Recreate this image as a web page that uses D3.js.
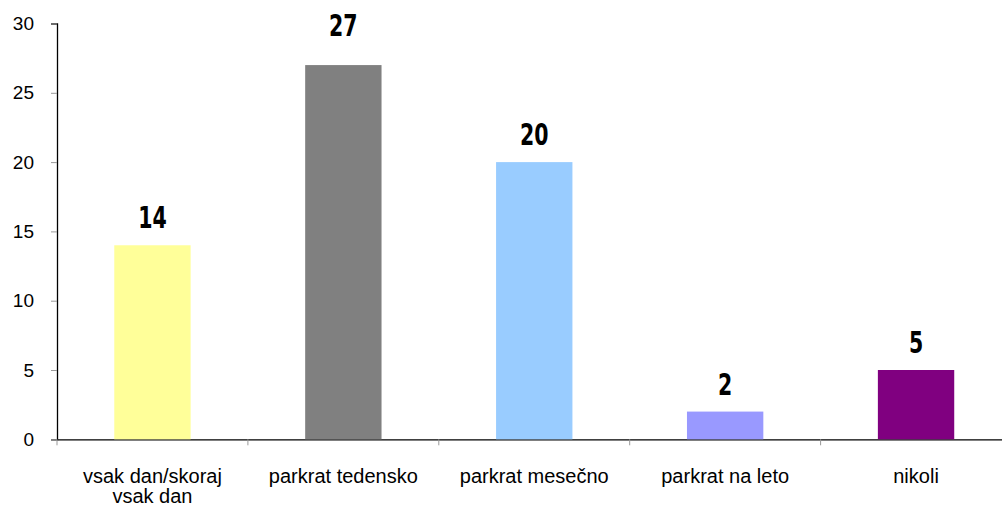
<!DOCTYPE html>
<html>
<head>
<meta charset="utf-8">
<script src="https://cdn.jsdelivr.net/npm/d3@7"></script>
<style>
  body { margin: 0; background: #fff; }
  svg { display: block; }
</style>
</head>
<body>
<div class="chartHolder"></div>
<script>
const categories = [['vsak dan/skoraj', 'vsak dan'], ['parkrat tedensko'], ['parkrat mesečno'], ['parkrat na leto'], ['nikoli']]
const values = [14, 27, 20, 2, 5]
const colors = ['#FFFF99', '#808080', '#99CCFF', '#9999FF', '#800080']
const yTicks = [0, 5, 10, 15, 20, 25, 30]

const render = () => {
  var margin = { top: 23.5, right: 0, bottom: 68, left: 57 }
  const width = 954.5
  const height = 415.8

  var xScale = d3.scaleBand()
    .domain(d3.range(values.length))
    .range([0, width])
    .padding(0)

  var yScale = d3.scaleLinear()
    .domain([0, 30])
    .range([height, 0])

  var svg = d3.select('.chartHolder').append('svg')
    .attr('width', 1002)
    .attr('height', 507)
  var graph = svg.append('g')
    .attr('transform', `translate(${margin.left},${margin.top})`)

  // y axis
  const yAxis = d3.axisLeft(yScale).tickValues(yTicks).tickSize(6).tickPadding(17)
  var yAxisGroup = graph.append('g').call(yAxis)
  yAxisGroup.select('.domain').attr('stroke', '#000').attr('stroke-width', 1.3)
  yAxisGroup.selectAll('.tick line').attr('stroke', '#999')
  yAxisGroup.selectAll('.tick text')
    .style('font-family', '"Liberation Sans", Arial, sans-serif')
    .style('font-size', '19px')
    .attr('fill', '#000')

  // x axis
  const xAxis = d3.axisBottom(xScale).tickSize(0).tickFormat('')
  var xAxisGroup = graph.append('g')
    .attr('transform', `translate(0,${height})`)
    .call(xAxis)
  xAxisGroup.select('.domain').attr('stroke', '#000').attr('stroke-width', 1.3)
  xAxisGroup.selectAll('.sep')
    .data(d3.range(values.length + 1))
    .enter()
    .append('line')
    .attr('x1', d => d * xScale.step())
    .attr('x2', d => d * xScale.step())
    .attr('y1', 0)
    .attr('y2', 6)
    .attr('stroke', '#999')

  // bars
  var bw = xScale.bandwidth()
  graph.selectAll('rect.bar')
    .data(values)
    .enter()
    .append('rect')
    .attr('class', 'bar')
    .attr('x', (d, i) => xScale(i) + bw * 0.3)
    .attr('y', d => yScale(d))
    .attr('width', bw * 0.4)
    .attr('height', d => height - yScale(d))
    .style('fill', (d, i) => colors[i])

  // value labels (tallest one sits up near the top like the original)
  var maxV = d3.max(values)
  graph.selectAll('text.val')
    .data(values)
    .enter()
    .append('text')
    .attr('class', 'val')
    .attr('transform', (d, i) => `translate(${xScale(i) + bw / 2},${yScale(d) - (d === maxV ? 29 : 17)}) scale(0.76,1)`)
    .attr('text-anchor', 'middle')
    .style('font-family', '"Liberation Sans Narrow", "DejaVu Sans Condensed", sans-serif')
    .style('font-weight', 'bold')
    .style('font-size', '30px')
    .text(d => d)

  // category labels
  var cat = graph.selectAll('text.cat')
    .data(categories)
    .enter()
    .append('text')
    .attr('class', 'cat')
    .attr('text-anchor', 'middle')
    .attr('x', (d, i) => xScale(i) + bw / 2)
    .attr('y', height + 44)
    .style('font-family', '"Liberation Sans", Arial, sans-serif')
    .style('font-size', '20px')
  cat.selectAll('tspan')
    .data(d => d)
    .enter()
    .append('tspan')
    .attr('x', function() { return d3.select(this.parentNode).attr('x') })
    .attr('dy', (d, i) => i === 0 ? 0 : 20)
    .text(d => d)
}
render()
</script>
</body>
</html>
